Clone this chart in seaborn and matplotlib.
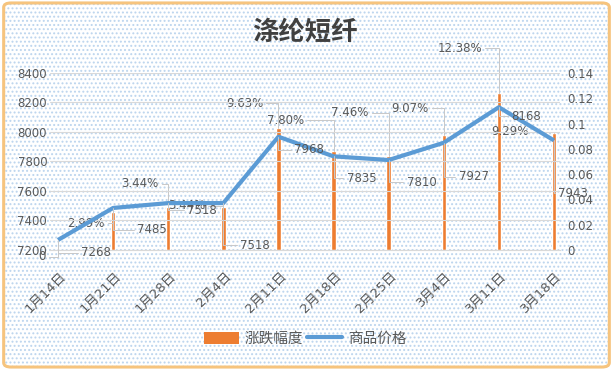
import numpy as np
import pandas as pd
import matplotlib
matplotlib.use('Agg')
import matplotlib.pyplot as plt
import seaborn as sns
from matplotlib.patches import Rectangle, FancyBboxPatch, Patch
from matplotlib.lines import Line2D
from matplotlib.transforms import ScaledTranslation

# data
dates = ['1月14日', '1月21日', '1月28日', '2月4日', '2月11日',
         '2月18日', '2月25日', '3月4日', '3月11日', '3月18日']
change = [0.0, 0.0299, 0.0344, 0.0344, 0.0963, 0.0780, 0.0746, 0.0907, 0.1238, 0.0929]
price = [7268, 7485, 7518, 7518, 7968, 7835, 7810, 7927, 8168, 7943]

# where Excel had dragged the labels to (pixel offsets from the mark)
change_offsets = [(-16, -7), (-27, -11), (-28, 23), (-37, 1), (-34, 25),
                  (-48, 31), (-39, 43), (-34, 27), (-39, 45), (-44, 1)]
price_offsets = [(38, -13), (39, -22), (34, -7), (32, -42), (31, -13),
                 (28, -22), (33, -22), (30, -34), (27, -9), (19, -53)]

ORANGE = '#ED7D31'
BLUE = '#5B9BD5'
TEXT = '#595959'
GRID = '#D9D9D9'
LEADER = '#C8C8C8'
CJK = ['Noto Sans CJK SC', 'DejaVu Sans']

sns.set_style('white')
plt.rcParams['font.family'] = ['DejaVu Sans', 'Noto Sans CJK SC']
plt.rcParams['hatch.color'] = '#BCD5EE'
plt.rcParams['hatch.linewidth'] = 0.9

df = pd.DataFrame({'date': dates, 'change': change, 'price': price,
                   'pos': np.arange(len(dates))})

fig = plt.figure(figsize=(6.13, 3.70), dpi=100)

# dotted background + rounded orange frame
fig.patches.append(Rectangle((0.006, 0.008), 0.988, 0.984, transform=fig.transFigure,
                             facecolor='white', edgecolor='#BCD5EE', linewidth=0,
                             hatch='....', zorder=-5))
fig.patches.append(FancyBboxPatch((0.006, 0.008), 0.988, 0.984, transform=fig.transFigure,
                                  boxstyle='round,pad=0,rounding_size=0.012',
                                  facecolor='none', edgecolor='#F6C47E', linewidth=2.2,
                                  zorder=-4))

ax = fig.add_axes([50 / 613, 120 / 370, 510 / 613, 177 / 370])
ax2 = ax.twinx()

# bars on the right axis
sns.barplot(data=df, x='date', y='change', ax=ax2, color=ORANGE,
            saturation=1, width=0.08, order=dates)
# line on the left axis
sns.lineplot(data=df, x='pos', y='price', ax=ax, color=BLUE, linewidth=3,
             solid_capstyle='butt')

ax2.set_zorder(1)
ax.set_zorder(2)
for a in (ax, ax2):
    a.patch.set_visible(False)
    for s in a.spines.values():
        s.set_visible(False)
    a.set_xlabel('')
    a.set_ylabel('')

ax.spines['bottom'].set_visible(True)
ax.spines['bottom'].set_color(GRID)
ax.spines['bottom'].set_linewidth(0.8)

ax.set_ylim(7200, 8400)
ax.set_yticks(np.arange(7200, 8401, 200))
ax2.set_ylim(0, 0.14)
ax2.set_yticks(np.arange(0, 0.1401, 0.02))
ax2.set_yticklabels(['0', '0.02', '0.04', '0.06', '0.08', '0.1', '0.12', '0.14'])

ax.set_xlim(-0.145, 9.11)
ax2.set_xlim(-0.145, 9.11)
ax.set_xticks(np.arange(len(dates)))
ax.set_xticklabels(dates, rotation=45, ha='right', va='center',
                   rotation_mode='anchor', fontsize=9.5, color=TEXT)

ax.grid(axis='y', color=GRID, linewidth=0.8)
ax.grid(axis='x', visible=False)
ax2.grid(False)

ax.tick_params(axis='y', length=0, pad=2, labelsize=8.5, labelcolor=TEXT)
ax2.tick_params(axis='y', length=0, pad=5, labelsize=8.5, labelcolor=TEXT)
ax.tick_params(axis='x', length=4, width=0.8, color=GRID, pad=13, direction='out')

# nudge the slanted date labels to the right, like Excel does
shift = ScaledTranslation(6 / 100, 0, fig.dpi_scale_trans)
for lbl in ax.xaxis.get_majorticklabels():
    lbl.set_transform(lbl.get_transform() + shift)

# data labels with leader lines
leader = dict(arrowstyle='-', color=LEADER, lw=0.7,
              connectionstyle='angle,angleA=0,angleB=90,rad=0',
              shrinkA=0, shrinkB=0)
for i, (v, off) in enumerate(zip(change, change_offsets)):
    txt = '0' if v == 0 else f'{v * 100:.2f}%'
    ax2.annotate(txt, xy=(i, v), xytext=off, textcoords='offset pixels',
                 ha='center', va='center', fontsize=8.5, color=TEXT,
                 arrowprops=leader, zorder=5)
for i, (p, off) in enumerate(zip(price, price_offsets)):
    ax.annotate(str(p), xy=(i, p), xytext=off, textcoords='offset pixels',
                ha='center', va='center', fontsize=8.5, color=TEXT,
                arrowprops=leader, zorder=5)

fig.text(0.498, 0.913, '涤纶短纤', ha='center', va='center', fontsize=19,
         color='#404040', family=CJK, weight='bold')

handles = [Patch(facecolor=ORANGE, edgecolor='none'),
           Line2D([0], [0], color=BLUE, linewidth=3)]
leg = fig.legend(handles, ['涨跌幅度', '商品价格'], loc='center',
                 bbox_to_anchor=(0.498, 0.085), ncol=2, frameon=False,
                 handlelength=2.4, handleheight=0.9,
                 handletextpad=0.4, columnspacing=0.3,
                 prop={'family': CJK, 'size': 10.5})
for t in leg.get_texts():
    t.set_color(TEXT)

fig.savefig('out.png', dpi=100)
